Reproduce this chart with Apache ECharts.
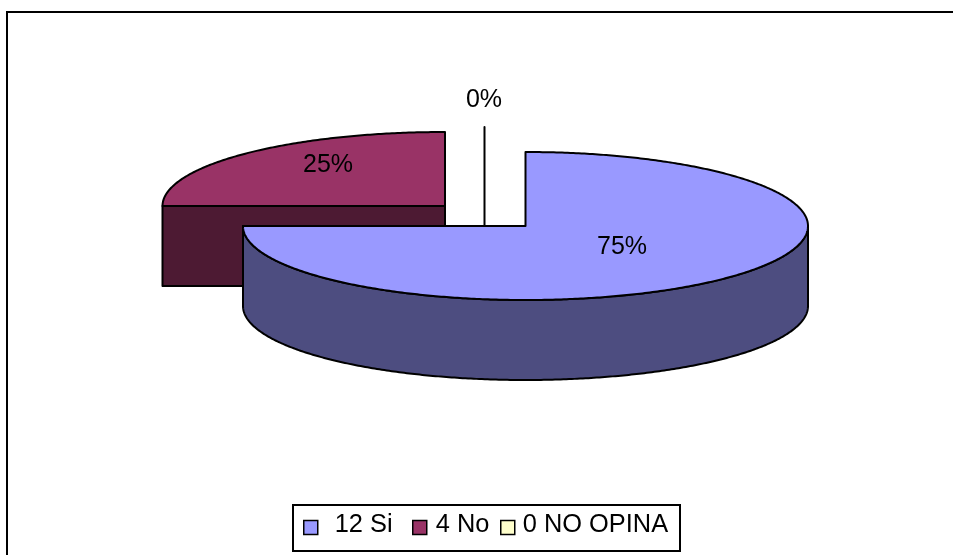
<!DOCTYPE html>
<html>
<head>
<meta charset="utf-8">
<style>html,body{margin:0;padding:0;background:#fff}#chart{width:953px;height:555px}</style>
<script src="https://cdn.jsdelivr.net/npm/echarts@6/dist/echarts.min.js"></script>
</head>
<body>
<div id="chart"></div>
<script>
// Survey answers
const categories = ['Si', 'No', 'NO OPINA'];
const counts = [12, 4, 0];

// Slice colours: top face, side face
const topColors = ['#9999FF', '#993366', '#FFFFCC'];
const sideColors = ['#4D4D80', '#4D1A33', '#808066'];

// Exploded slice centres and label anchors, in pixels
const centers = [[525.5, 226], [445, 206], [484.5, 201]];
const labelAnchors = [[622, 247], [328, 165], [484, 100]];
const drawOrder = [1, 2, 0];

// Disc projection
const RX = 282.5, RY = 74, DEPTH = 80;
const FONT = '"Liberation Sans", Arial, sans-serif';
const total = counts.reduce((a, b) => a + b, 0);
const outline = { stroke: '#000', lineWidth: 2, lineJoin: 'round' };

// Rim point for an angle measured clockwise from 12 o'clock
const rim = (c, a, dy) => [c[0] + RX * Math.sin(a), c[1] - RY * Math.cos(a) + (dy || 0)];

function arcPoints(c, from, to, dy) {
  const n = Math.max(1, Math.ceil(Math.abs(to - from) / 0.01));
  const pts = [];
  for (let i = 0; i <= n; i++) pts.push(rim(c, from + (to - from) * i / n, dy));
  return pts;
}

function sliceRenderer(index) {
  const before = counts.slice(0, index).reduce((a, b) => a + b, 0);
  return function (params, api) {
    const value = api.value(0);
    const start = before / total * Math.PI * 2;
    const end = (before + value) / total * Math.PI * 2;
    const c = centers[index];
    const children = [];
    const poly = (points, fill) => children.push({
      type: 'polygon', shape: { points }, style: Object.assign({ fill }, outline)
    });

    // Front wall of the disc: the part of the arc facing the viewer
    const a0 = Math.max(start, Math.PI / 2), a1 = Math.min(end, Math.PI * 1.5);
    if (a1 > a0) {
      poly(arcPoints(c, a0, a1).concat(arcPoints(c, a1, a0, DEPTH)), sideColors[index]);
    }
    // Cut wall seen from the front, on slices that begin on the left half
    if (Math.sin(start) < -1e-6) {
      const p = rim(c, start);
      poly([c, p, [p[0], p[1] + DEPTH], [c[0], c[1] + DEPTH]], sideColors[index]);
    }
    // Zero-sized slices collapse to a single vertical stroke
    if (value === 0) {
      const p = rim(c, start);
      poly([p, [c[0], c[1] + DEPTH]], sideColors[index]);
    } else {
      poly([c].concat(arcPoints(c, start, end)), topColors[index]);
    }
    children.push({
      type: 'text',
      style: {
        x: labelAnchors[index][0], y: labelAnchors[index][1],
        text: Math.round(value / total * 100) + '%',
        font: '25px ' + FONT, fill: '#000', align: 'center', verticalAlign: 'middle'
      },
      z2: 10
    });
    return { type: 'group', children };
  };
}

const legendNames = categories.map((name, i) => counts[i] + ' ' + name);
const legendLefts = [303, 412, 500];
const legendPads = [12, 4, 3];

const chart = echarts.init(document.getElementById('chart'), null, { renderer: 'canvas' });
chart.setOption({
  animation: false,
  backgroundColor: '#fff',
  legend: legendNames.map((name, i) => ({
    data: [name],
    left: legendLefts[i],
    top: 512,
    padding: 0,
    itemWidth: 14,
    itemHeight: 14,
    icon: 'rect',
    selectedMode: false,
    itemStyle: { borderColor: '#000', borderWidth: 1.5 },
    formatter: '{t|{name}}',
    textStyle: {
      rich: { t: { fontFamily: FONT, fontSize: 25.4, color: '#000', padding: [0, 0, 6, legendPads[i]] } }
    }
  })),
  graphic: [
    { type: 'polyline', silent: true, z: 0,
      shape: { points: [[7, 555], [7, 12], [953, 12]] },
      style: { stroke: '#000', lineWidth: 2, fill: null } },
    { type: 'rect', silent: true, z: 0,
      shape: { x: 293, y: 505, width: 387, height: 46 },
      style: { stroke: '#000', lineWidth: 2, fill: '#fff' } }
  ],
  series: drawOrder.map(i => ({
    type: 'custom',
    name: legendNames[i],
    coordinateSystem: 'none',
    silent: true,
    itemStyle: { color: topColors[i] },
    data: [[counts[i]]],
    renderItem: sliceRenderer(i)
  }))
});
</script>
</body>
</html>
